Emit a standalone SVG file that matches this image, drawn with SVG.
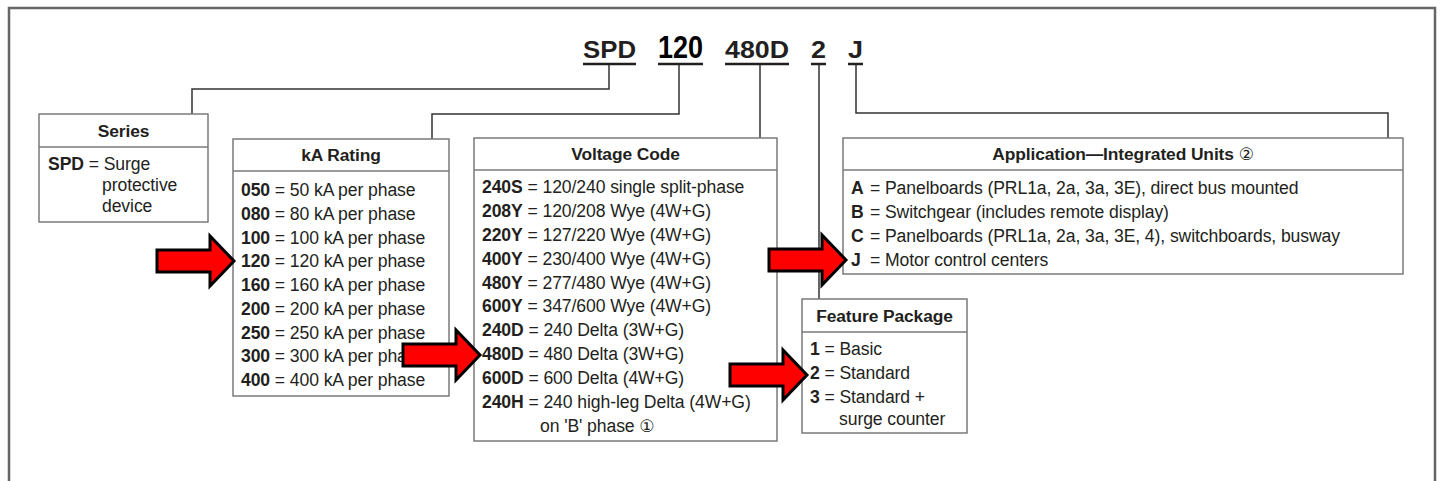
<svg xmlns="http://www.w3.org/2000/svg" width="1442" height="481" viewBox="0 0 1442 481">
<style>
text{font-family:"Liberation Sans",Arial,sans-serif;fill:#231f20;font-size:17.6px;letter-spacing:-0.1px}
.b{font-weight:bold}
.h{font-weight:bold;font-size:17.4px;text-anchor:middle}
.code{font-weight:bold;font-size:24px;fill:#231f20;letter-spacing:0}
.circ{font-family:"DejaVu Sans",sans-serif;font-weight:normal;font-size:17px}
.box{fill:#fff;stroke:#7a7a7a;stroke-width:1.5}
.sep{stroke:#7a7a7a;stroke-width:1.5}
.con{fill:none;stroke:#333;stroke-width:1.5}
.ul{stroke:#231f20;stroke-width:2.5}
.arr{fill:#ff0000;stroke:#000;stroke-width:3;stroke-linejoin:miter}
</style>
<defs>
<path id="arrow" class="arr" d="M0,-11 H53 V-25 L77,0 L53,25 V11 H0 Z"/>
</defs>
<path d="M9,490 V8 H1435 V490" fill="none" stroke="#666" stroke-width="2.5"/>
<g id="code">
<text class="code" x="583" y="58" textLength="53" lengthAdjust="spacingAndGlyphs">SPD</text>
<text class="code" x="658" y="58" style="font-size:31px;fill:#000" textLength="45" lengthAdjust="spacingAndGlyphs">120</text>
<text class="code" x="725" y="58" textLength="64" lengthAdjust="spacingAndGlyphs">480D</text>
<text class="code" x="811" y="58" textLength="15" lengthAdjust="spacingAndGlyphs">2</text>
<text class="code" x="848" y="58" textLength="15" lengthAdjust="spacingAndGlyphs">J</text>
<line class="ul" x1="583" y1="64" x2="636" y2="64"/>
<line class="ul" x1="658" y1="64" x2="703" y2="64"/>
<line class="ul" x1="725" y1="64" x2="789" y2="64"/>
<line class="ul" x1="811" y1="64" x2="826" y2="64"/>
<line class="ul" x1="848" y1="64" x2="863" y2="64"/>
</g>
<g id="connectors">
<path class="con" d="M609,65 V89 H192 V114"/>
<path class="con" d="M679,65 V114 H432 V139"/>
<path class="con" d="M760,65 V138"/>
<path class="con" d="M819,65 V299"/>
<path class="con" d="M856,65 V113 H1388 V138"/>
</g>
<g id="series">
<rect class="box" x="39" y="114" width="169" height="108"/>
<line class="sep" x1="39" y1="147" x2="208" y2="147"/>
<text class="h" x="123.5" y="137">Series</text>
<text x="48" y="170"><tspan class="b">SPD</tspan> = Surge</text>
<text x="102" y="191">protective</text>
<text x="102" y="212">device</text>
</g>
<g id="ka-rating">
<rect class="box" x="233" y="139" width="216" height="257"/>
<line class="sep" x1="233" y1="171" x2="449" y2="171"/>
<text class="h" x="341" y="161">kA Rating</text>
<text x="241" y="196"><tspan class="b">050</tspan> = 50 kA per phase</text>
<text x="241" y="220"><tspan class="b">080</tspan> = 80 kA per phase</text>
<text x="241" y="244"><tspan class="b">100</tspan> = 100 kA per phase</text>
<text x="241" y="267"><tspan class="b">120</tspan> = 120 kA per phase</text>
<text x="241" y="291"><tspan class="b">160</tspan> = 160 kA per phase</text>
<text x="241" y="315"><tspan class="b">200</tspan> = 200 kA per phase</text>
<text x="241" y="339"><tspan class="b">250</tspan> = 250 kA per phase</text>
<text x="241" y="362"><tspan class="b">300</tspan> = 300 kA per phase</text>
<text x="241" y="386"><tspan class="b">400</tspan> = 400 kA per phase</text>
</g>
<g id="voltage-code">
<rect class="box" x="474" y="138" width="303" height="303"/>
<line class="sep" x1="474" y1="170" x2="777" y2="170"/>
<text class="h" x="625.5" y="160">Voltage Code</text>
<text x="482" y="193"><tspan class="b">240S</tspan> = 120/240 single split-phase</text>
<text x="482" y="217"><tspan class="b">208Y</tspan> = 120/208 Wye (4W+G)</text>
<text x="482" y="241"><tspan class="b">220Y</tspan> = 127/220 Wye (4W+G)</text>
<text x="482" y="265"><tspan class="b">400Y</tspan> = 230/400 Wye (4W+G)</text>
<text x="482" y="289"><tspan class="b">480Y</tspan> = 277/480 Wye (4W+G)</text>
<text x="482" y="312"><tspan class="b">600Y</tspan> = 347/600 Wye (4W+G)</text>
<text x="482" y="336"><tspan class="b">240D</tspan> = 240 Delta (3W+G)</text>
<text x="482" y="360"><tspan class="b">480D</tspan> = 480 Delta (3W+G)</text>
<text x="482" y="384"><tspan class="b">600D</tspan> = 600 Delta (4W+G)</text>
<text x="482" y="408"><tspan class="b">240H</tspan> = 240 high-leg Delta (4W+G)</text>
<text x="540" y="432">on 'B' phase <tspan class="circ">①</tspan></text>
</g>
<g id="application">
<rect class="box" x="843" y="138" width="560" height="136"/>
<line class="sep" x1="843" y1="170" x2="1403" y2="170"/>
<text class="h" x="1123" y="160">Application—Integrated Units <tspan class="circ">②</tspan></text>
<text x="851" y="194"><tspan class="b">A</tspan></text><text x="870" y="194">= Panelboards (PRL1a, 2a, 3a, 3E), direct bus mounted</text>
<text x="851" y="218"><tspan class="b">B</tspan></text><text x="870" y="218">= Switchgear (includes remote display)</text>
<text x="851" y="242"><tspan class="b">C</tspan></text><text x="870" y="242">= Panelboards (PRL1a, 2a, 3a, 3E, 4), switchboards, busway</text>
<text x="851" y="266"><tspan class="b">J</tspan></text><text x="870" y="266">= Motor control centers</text>
</g>
<g id="feature-package">
<rect class="box" x="802" y="299" width="165" height="134"/>
<line class="sep" x1="802" y1="332" x2="967" y2="332"/>
<text class="h" x="884.5" y="322">Feature Package</text>
<text x="810" y="355"><tspan class="b">1</tspan> = Basic</text>
<text x="810" y="379"><tspan class="b">2</tspan> = Standard</text>
<text x="810" y="403"><tspan class="b">3</tspan> = Standard +</text>
<text x="839" y="425">surge counter</text>
</g>
<g id="arrows">
<use href="#arrow" x="157" y="261"/>
<use href="#arrow" x="403" y="355"/>
<use href="#arrow" x="730" y="375"/>
<use href="#arrow" x="769" y="260"/>
</g>
</svg>
